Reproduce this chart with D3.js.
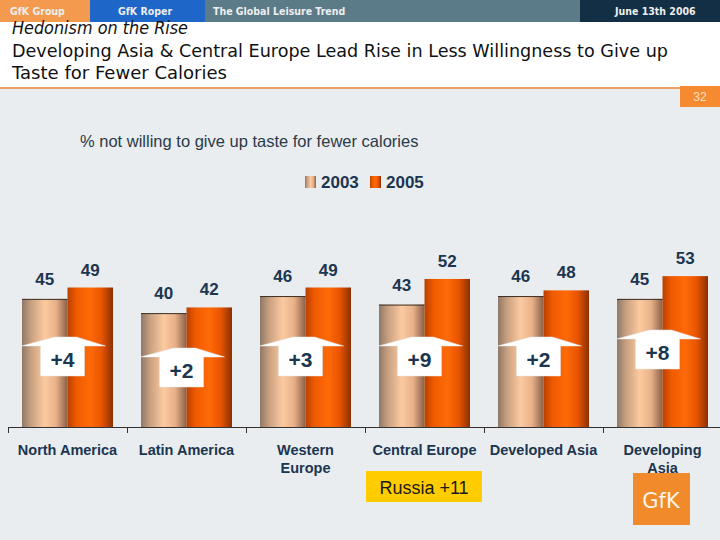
<!DOCTYPE html>
<html><head><meta charset="utf-8">
<script src="https://cdn.jsdelivr.net/npm/d3@7/dist/d3.min.js"></script>
<style>body{margin:0;padding:0;background:#fff}svg{display:block}</style>
</head><body>
<script>
const categories = [["North America"],["Latin America"],["Western","Europe"],["Central Europe"],["Developed Asia"],["Developing","Asia"]];
const seriesNames = ["2003","2005"];
const values2003 = [45,40,46,43,46,45];
const values2005 = [49,42,49,52,48,53];
const headerTabs = ["GfK Group","GfK Roper","The Global Leisure Trend","June 13th 2006"];
const kicker = "Hedonism on the Rise";
const titleLines = ["Developing Asia & Central Europe Lead Rise in Less Willingness to Give up","Taste for Fewer Calories"];
const subtitle = "% not willing to give up taste for fewer calories";
const pageNo = "32";
const note = "Russia +11";

const W=720,H=540;
const svg=d3.select("body").append("svg").attr("width",W).attr("height",H);
const defs=svg.append("defs");
function grad(id,stops){const g=defs.append("linearGradient").attr("id",id).attr("x1","0").attr("x2","1").attr("y1","0").attr("y2","0");
 stops.forEach(s=>g.append("stop").attr("offset",s[0]).attr("stop-color",s[1]));}
grad("g03",[[0,"#8f7868"],[0.2,"#c9a080"],[0.5,"#fccaa0"],[0.75,"#e8b088"],[1,"#8a6048"]]);
grad("g05",[[0,"#b84000"],[0.2,"#f05a00"],[0.5,"#ff6a08"],[0.75,"#e85400"],[1,"#8a3000"]]);
const fills=["url(#g03)","url(#g05)"];

// backgrounds
svg.append("rect").attr("x",0).attr("y",0).attr("width",W).attr("height",H).attr("fill","#e9edef");
svg.append("rect").attr("x",0).attr("y",22).attr("width",W).attr("height",66).attr("fill","#ffffff");
// header
const tabX=[0,90,205,580,720], tabC=["#f39a4e","#1f66c9","#5c7b88","#122f45"], tabTx=[10,118,213,615];
headerTabs.forEach((t,i)=>{
 svg.append("rect").attr("x",tabX[i]).attr("y",0).attr("width",tabX[i+1]-tabX[i]).attr("height",22).attr("fill",tabC[i]);
 svg.append("text").attr("x",tabTx[i]).attr("y",15).attr("fill","#eeeeee").attr("font-family","DejaVu Sans Condensed, DejaVu Sans, Verdana, sans-serif")
  .attr("font-size",10.5).attr("font-weight","bold").text(t);
});
svg.append("text").attr("x",12).attr("y",34).attr("font-family","DejaVu Sans, Verdana, sans-serif").attr("font-style","italic")
 .attr("font-size",17).attr("fill","#111").attr("textLength",176).attr("lengthAdjust","spacingAndGlyphs").text(kicker);
svg.append("text").attr("x",12).attr("y",57).attr("font-family","DejaVu Sans, Verdana, sans-serif")
 .attr("font-size",18).attr("fill","#111").attr("textLength",656).attr("lengthAdjust","spacingAndGlyphs").text(titleLines[0]);
svg.append("text").attr("x",12).attr("y",79).attr("font-family","DejaVu Sans, Verdana, sans-serif")
 .attr("font-size",18).attr("fill","#111").attr("textLength",215).attr("lengthAdjust","spacingAndGlyphs").text(titleLines[1]);
svg.append("rect").attr("x",0).attr("y",87).attr("width",680).attr("height",2).attr("fill","#f0a060");
svg.append("rect").attr("x",680).attr("y",86).attr("width",40).attr("height",21).attr("fill","#f58a30");
svg.append("text").attr("x",700).attr("y",101).attr("text-anchor","middle").attr("font-family","Liberation Sans, Arial, sans-serif")
 .attr("font-size",12).attr("fill","#ffe0c0").text(pageNo);

// subtitle & legend
svg.append("text").attr("x",80).attr("y",147).attr("font-family","Liberation Sans, Arial, sans-serif").attr("font-size",16.5)
 .attr("fill","#2b3a48").text(subtitle);
const legX=[305,370];
seriesNames.forEach((s,i)=>{
 svg.append("rect").attr("x",legX[i]).attr("y",176).attr("width",11).attr("height",12).attr("fill",fills[i]);
 svg.append("text").attr("x",legX[i]+16).attr("y",188).attr("font-family","Liberation Sans, Arial, sans-serif").attr("font-size",17)
  .attr("font-weight","bold").attr("fill","#1c3550").text(s);
});

// scales
const base=427;
const x0=d3.scaleBand().domain(d3.range(categories.length)).range([8,722]).paddingInner(0).paddingOuter(0);
const x1=d3.scaleBand().domain([0,1]).range([14,105]).padding(0);
const y=d3.scaleLinear().domain([0,150]).range([base,0]);

const g=svg.append("g");
const data=categories.map((c,i)=>({i,c,v:[values2003[i],values2005[i]]}));
const grp=g.selectAll("g.grp").data(data).join("g").attr("transform",d=>`translate(${x0(d.i)},0)`);
grp.selectAll("rect.bar").data(d=>d.v.map((v,k)=>({v,k}))).join("rect")
 .attr("x",d=>x1(d.k)).attr("width",x1.bandwidth()).attr("y",d=>y(d.v)).attr("height",d=>base-y(d.v)).attr("fill",d=>fills[d.k]);
grp.selectAll("line.top").data(d=>[d.v[0]]).join("line").attr("x1",x1(0)).attr("x2",x1(1)).attr("y1",d=>y(d)+0.5).attr("y2",d=>y(d)+0.5)
 .attr("stroke","#3a3028").attr("stroke-width",1);
grp.selectAll("text.val").data(d=>d.v.map((v,k)=>({v,k}))).join("text")
 .attr("x",d=>x1(d.k)+x1.bandwidth()/2).attr("y",d=>y(d.v)-(d.k===0?14:12)).attr("text-anchor","middle")
 .attr("font-family","Liberation Sans, Arial, sans-serif").attr("font-size",17).attr("font-weight","bold").attr("fill","#1c3550").text(d=>d.v);

// change arrows
const arrowApex=[337,348,337,337,337,330];
grp.each(function(d){
 const gg=d3.select(this); const cx=x1(1)-3; const a=arrowApex[d.i];
 const pts=[[cx-10,a],[cx+12,a],[cx+41,a+9],[cx+20,a+9],[cx+20,a+39],[cx-24,a+39],[cx-24,a+9],[cx-43,a+9]];
 gg.append("polygon").attr("points",pts.map(p=>p.join(",")).join(" ")).attr("fill","#ffffff").attr("stroke","#e4e4e4").attr("stroke-width",0.5);
 gg.append("text").attr("x",cx-2).attr("y",a+30).attr("text-anchor","middle").attr("font-family","Liberation Sans, Arial, sans-serif")
  .attr("font-size",21).attr("font-weight","bold").attr("fill","#1c3550").text("+"+(d.v[1]-d.v[0]));
});

// axis
svg.append("line").attr("x1",8).attr("x2",720).attr("y1",base+0.5).attr("y2",base+0.5).attr("stroke","#333");
d3.range(categories.length).forEach(i=>{
 svg.append("line").attr("x1",x0(i)+0.5).attr("x2",x0(i)+0.5).attr("y1",base).attr("y2",base+6).attr("stroke","#333");
});
grp.each(function(d){
 const t=d3.select(this).append("text").attr("text-anchor","middle").attr("font-family","Liberation Sans, Arial, sans-serif")
  .attr("font-size",14.5).attr("font-weight","bold").attr("fill","#1c3550");
 d.c.forEach((l,j)=>t.append("tspan").attr("x",x0.bandwidth()/2).attr("y",455+j*18).text(l));
});

// note
svg.append("rect").attr("x",366).attr("y",471).attr("width",116).attr("height",31).attr("fill","#ffcc00");
svg.append("text").attr("x",424).attr("y",494).attr("text-anchor","middle").attr("font-family","Liberation Sans, Arial, sans-serif")
 .attr("font-size",18).attr("fill","#1a1a1a").text(note);
// logo
svg.append("rect").attr("x",633).attr("y",473).attr("width",57).attr("height",52).attr("fill","#f08a2a");
svg.append("text").attr("x",661).attr("y",508).attr("text-anchor","middle").attr("font-family","DejaVu Sans, Verdana, sans-serif")
 .attr("font-size",21).attr("fill","#fff4e8").text("GfK");
</script>
</body></html>
